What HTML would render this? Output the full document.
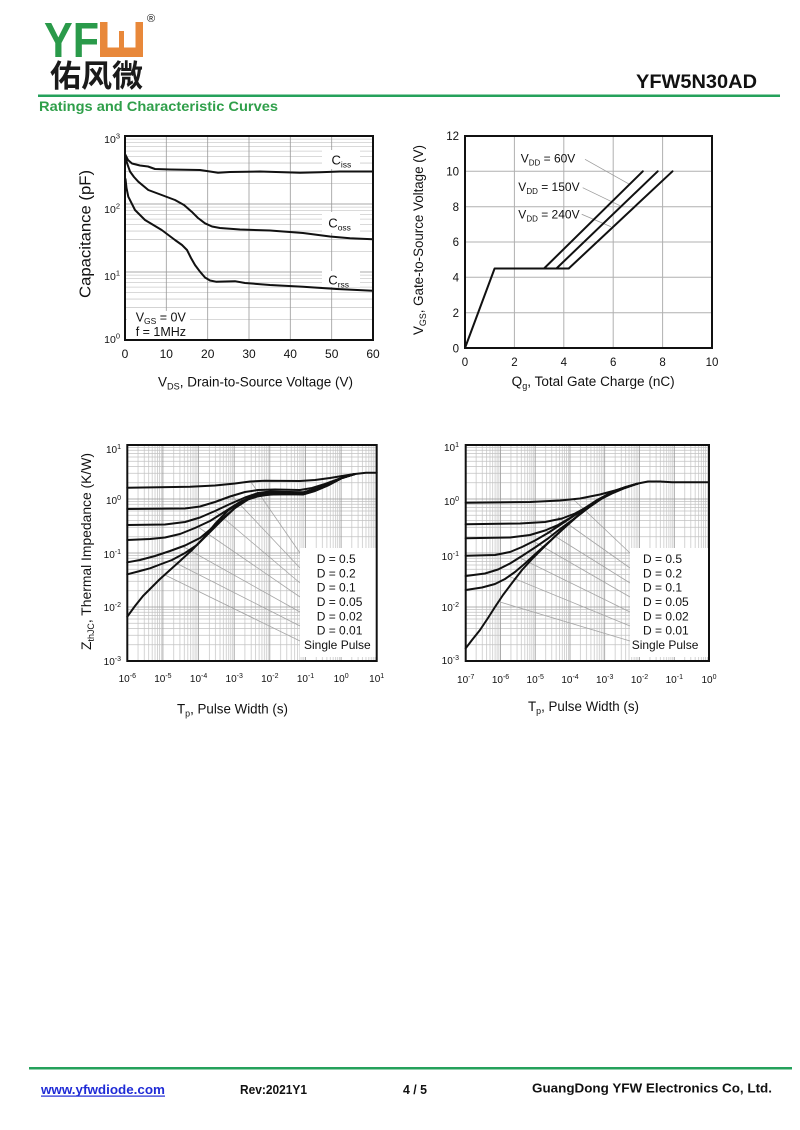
<!DOCTYPE html>
<html><head><meta charset="utf-8"><style>
html,body{margin:0;padding:0;background:#fff;}
svg{display:block;}
text{font-family:"Liberation Sans","Noto Sans CJK SC",sans-serif;fill:#111;}
</style></head><body>
<svg width="800" height="1130" viewBox="0 0 800 1130" xmlns="http://www.w3.org/2000/svg">
<defs>
<pattern id="pTL" patternUnits="userSpaceOnUse" x="125" y="136" width="248" height="68">
<path d="M0 3.11H248M0 6.59H248M0 10.53H248M0 15.09H248M0 20.47H248M0 27.06H248M0 35.56H248M0 47.53H248" stroke="#cdcdcd" stroke-width="0.8"/>
</pattern>
<pattern id="pBL" patternUnits="userSpaceOnUse" x="127.3" y="445" width="35.63" height="54">
<path d="M10.73 0V54M17 0V54M21.45 0V54M24.9 0V54M27.73 0V54M30.11 0V54M32.18 0V54M34 0V54M0 2.47H35.63M0 5.23H35.63M0 8.36H35.63M0 11.98H35.63M0 16.26H35.63M0 21.49H35.63M0 28.24H35.63M0 37.74H35.63" stroke="#c2c2c2" stroke-width="0.7"/>
</pattern>
<pattern id="pBR" patternUnits="userSpaceOnUse" x="465.7" y="445" width="34.76" height="54">
<path d="M10.46 0V54M16.58 0V54M20.93 0V54M24.3 0V54M27.05 0V54M29.38 0V54M31.39 0V54M33.17 0V54M0 2.47H34.76M0 5.23H34.76M0 8.36H34.76M0 11.98H34.76M0 16.26H34.76M0 21.49H34.76M0 28.24H34.76M0 37.74H34.76" stroke="#c2c2c2" stroke-width="0.7"/>
</pattern>
</defs>

<!-- HEADER -->
<text x="44" y="57" font-size="49" font-weight="bold" style="fill:#2a9a4a" textLength="55" lengthAdjust="spacingAndGlyphs">YF</text>
<rect x="100" y="22" width="43" height="35" fill="#e8883a"/>
<rect x="107.5" y="22" width="28" height="25.5" fill="#fff"/>
<rect x="119" y="31" width="5" height="17" fill="#e8883a"/>
<text x="147" y="22" font-size="11">®</text>
<text x="50" y="87" font-size="31" font-weight="bold" style="font-family:'Noto Sans CJK SC','WenQuanYi Zen Hei',sans-serif;fill:#1a1a1a">佑风微</text>
<text x="636" y="88" font-size="19" font-weight="bold" textLength="121" lengthAdjust="spacingAndGlyphs">YFW5N30AD</text>
<rect x="38" y="94.5" width="742" height="2.5" fill="#25a15b"/>
<text x="39" y="111" font-size="14" font-weight="bold" style="fill:#2f9f4a" textLength="239" lengthAdjust="spacingAndGlyphs">Ratings and Characteristic Curves</text>

<!-- ============ TOP LEFT: Capacitance ============ -->
<rect x="125" y="136" width="248" height="204" fill="url(#pTL)"/>
<path d="M125 204H373M125 272H373" stroke="#a8a8a8" stroke-width="1"/>
<path d="M166.3 136V340M207.7 136V340M249 136V340M290.3 136V340M331.7 136V340" stroke="#9a9a9a" stroke-width="0.8"/>
<rect x="322" y="150" width="38" height="19" fill="#fff"/>
<rect x="322" y="212" width="38" height="21" fill="#fff"/>
<rect x="322" y="271" width="38" height="16" fill="#fff"/>
<rect x="127" y="311" width="63" height="28" fill="#fff"/>
<g fill="none" stroke="#111" stroke-width="2" stroke-linejoin="round" stroke-linecap="round">
<polyline points="125.5,155 128,160 132,163.5 140,165.5 148,166.5 155,169 170,169.5 200,170 210,171.5 218,172.7 230,172 260,171.5 300,172.7 320,172.2 340,171.5 372.7,171.5"/>
<polyline points="125.5,155 127,163 130,171.5 134,177 138.3,181.7 148.3,190 161.7,195 175,200 184,205 191.7,211.7 198,218 205,223.3 212,226.5 220,228 240,229.5 270,230.5 303,233 330,236.5 350,238.3 372.7,239.3"/>
<polyline points="125.5,179 126.5,188 128.3,196.7 135,210 145,220 161.7,230 175,240 182,245 187,250 191,258 195,265 200,271.7 205,277.5 210,280.5 216,281.7 225,281.5 235,281.2 245,283 270,285 303,286.7 336.7,289 372.7,290.7"/>
</g>
<rect x="125" y="136" width="248" height="204" fill="none" stroke="#111" stroke-width="2"/>
<text x="331.5" y="164.5" font-size="13">C<tspan font-size="8.5" dy="3">iss</tspan></text>
<text x="328.3" y="227.7" font-size="13">C<tspan font-size="8.5" dy="3">oss</tspan></text>
<text x="328.3" y="284.3" font-size="13">C<tspan font-size="8.5" dy="3">rss</tspan></text>
<text x="135.7" y="321.5" font-size="12.5">V<tspan font-size="8.5" dy="2.5">GS</tspan><tspan dy="-2.5"> = 0V</tspan></text>
<text x="135.7" y="336" font-size="12.5">f = 1MHz</text>
<g font-size="10.5" text-anchor="end">
<text x="120" y="143">10<tspan font-size="7.5" dy="-4.5">3</tspan></text>
<text x="120" y="213">10<tspan font-size="7.5" dy="-4.5">2</tspan></text>
<text x="120" y="280">10<tspan font-size="7.5" dy="-4.5">1</tspan></text>
<text x="120" y="343">10<tspan font-size="7.5" dy="-4.5">0</tspan></text>
</g>
<g font-size="12" text-anchor="middle">
<text x="125" y="358">0</text><text x="166.3" y="358">10</text><text x="207.7" y="358">20</text><text x="249" y="358">30</text><text x="290.3" y="358">40</text><text x="331.7" y="358">50</text><text x="373" y="358">60</text>
</g>
<text x="158" y="386.5" font-size="14" textLength="195" lengthAdjust="spacingAndGlyphs">V<tspan font-size="9.5" dy="3">DS</tspan><tspan dy="-3">, Drain-to-Source Voltage (V)</tspan></text>
<text transform="translate(90.5,234) rotate(-90)" text-anchor="middle" font-size="15.5" textLength="128" lengthAdjust="spacingAndGlyphs">Capacitance (pF)</text>

<!-- ============ TOP RIGHT: Gate charge ============ -->
<path d="M514.4 136V348M563.8 136V348M613.2 136V348M662.6 136V348M465 171.3H712M465 206.7H712M465 242H712M465 277.3H712M465 312.7H712" stroke="#b0b0b0" stroke-width="1"/>
<g stroke="#9a9a9a" stroke-width="0.8">
<line x1="585" y1="159.3" x2="629.5" y2="184.3"/>
<line x1="582.7" y1="187.7" x2="620" y2="205.7"/>
<line x1="581.7" y1="214.3" x2="611" y2="226.7"/>
</g>
<g fill="none" stroke="#111" stroke-width="2" stroke-linejoin="round" stroke-linecap="round">
<polyline points="465,348 494.6,268.5 568.7,268.5"/>
<line x1="544" y1="268.5" x2="642.8" y2="171.3"/>
<line x1="556.4" y1="268.5" x2="657.7" y2="171.3"/>
<line x1="568.7" y1="268.5" x2="672.5" y2="171.3"/>
</g>
<rect x="465" y="136" width="247" height="212" fill="none" stroke="#111" stroke-width="2"/>
<text x="520.7" y="162.3" font-size="12">V<tspan font-size="8" dy="3">DD</tspan><tspan dy="-3"> = 60V</tspan></text>
<text x="518.3" y="191" font-size="12">V<tspan font-size="8" dy="3">DD</tspan><tspan dy="-3"> = 150V</tspan></text>
<text x="518.3" y="218.3" font-size="12">V<tspan font-size="8" dy="3">DD</tspan><tspan dy="-3"> = 240V</tspan></text>
<g font-size="11.5" text-anchor="end">
<text x="459" y="140">12</text><text x="459" y="175.5">10</text><text x="459" y="211">8</text><text x="459" y="246">6</text><text x="459" y="281.5">4</text><text x="459" y="317">2</text><text x="459" y="352.5">0</text>
</g>
<g font-size="11.5" text-anchor="middle">
<text x="465" y="366">0</text><text x="514.4" y="366">2</text><text x="563.8" y="366">4</text><text x="613.2" y="366">6</text><text x="662.6" y="366">8</text><text x="712" y="366">10</text>
</g>
<text x="511.7" y="386" font-size="13.5" textLength="163" lengthAdjust="spacingAndGlyphs">Q<tspan font-size="9" dy="3">g</tspan><tspan dy="-3">, Total Gate Charge (nC)</tspan></text>
<text transform="translate(423,240) rotate(-90)" text-anchor="middle" font-size="13.5" textLength="190" lengthAdjust="spacingAndGlyphs">V<tspan font-size="9" dy="3">GS</tspan><tspan dy="-3">, Gate-to-Source Voltage (V)</tspan></text>

<!-- ============ BOTTOM LEFT: Thermal impedance ============ -->
<rect x="127.3" y="445" width="249.4" height="216" fill="url(#pBL)"/>
<path d="M162.9 445V661M198.6 445V661M234.2 445V661M269.8 445V661M305.5 445V661M341.1 445V661M127.3 499H376.7M127.3 553H376.7M127.3 607H376.7" stroke="#999" stroke-width="0.8"/>
<g stroke="#a5a5a5" stroke-width="0.8">
<line x1="251" y1="482" x2="300" y2="553"/>
<line x1="232" y1="496" x2="300" y2="568"/>
<line x1="215" y1="511" x2="300" y2="583"/>
<line x1="198" y1="527" x2="300" y2="597"/>
<line x1="182" y1="546" x2="300" y2="612"/>
<line x1="170" y1="560" x2="300" y2="626"/>
<line x1="165" y1="575" x2="300" y2="641"/>
</g>
<rect x="300" y="548" width="77" height="109" fill="#fff"/>
<g fill="none" stroke="#111" stroke-width="2" stroke-linejoin="round" stroke-linecap="round">
<polyline points="127.3,487.7 190,486.7 215,485.5 235,483.5 250,481.5 265,480.7 300,481 315,480 330,478 345,475.5 355,474 366,472.8 376.7,472.7"/>
<polyline points="127.3,509 185,508.5 200,506.5 215,502 230,496.5 245,492 258,490 275,489.5 300,490 312,488 325,484 340,478.5 355,474"/>
<polyline points="127.3,525 165,524.5 185,522 200,517.5 215,511 230,504 245,497.5 258,493 270,491.5 290,492 303,492.3 315,489 328,484 342,478 355,474"/>
<polyline points="127.3,540 150,539 165,537.5 180,534 195,528 210,521 225,511.5 240,502 252,496.5 265,493 285,493 303,493.5 315,490 328,484.5 342,478 355,474"/>
<polyline points="127.3,562.3 140,560 155,556 170,551 185,545.5 200,538 212,528 225,516.5 240,503.5 252,497 265,494 285,493.8 303,494 315,490.5 328,485 342,478 355,474"/>
<polyline points="127.3,574.3 140,571 150,568.3 160,564.5 172,560 185,553 197,545 210,532 222,520 235,508 248,499.5 262,495 285,494 303,494.3 315,490.8 328,485.3 342,478 355,474"/>
<polyline points="127.3,616.7 135,606 143,596 150,589 160,579 170,570 180,561 192,550 203,538.5 215,524 228,510.5 242,501 256.7,496.5 270,494.5 290,494.2 303,494.5 315,491 328,485.5 342,478 353,474.3"/>
</g>
<rect x="127.3" y="445" width="249.4" height="216" fill="none" stroke="#111" stroke-width="2"/>
<g font-size="12">
<text x="316.7" y="563">D = 0.5</text>
<text x="316.7" y="577.3">D = 0.2</text>
<text x="316.7" y="591.7">D = 0.1</text>
<text x="316.7" y="606">D = 0.05</text>
<text x="316.7" y="620.3">D = 0.02</text>
<text x="316.7" y="634.6">D = 0.01</text>
<text x="304" y="649">Single Pulse</text>
</g>
<g font-size="10" text-anchor="end">
<text x="121" y="453">10<tspan font-size="7" dy="-4">1</tspan></text>
<text x="121" y="504">10<tspan font-size="7" dy="-4">0</tspan></text>
<text x="121" y="558">10<tspan font-size="7" dy="-4">-1</tspan></text>
<text x="121" y="611">10<tspan font-size="7" dy="-4">-2</tspan></text>
<text x="121" y="665">10<tspan font-size="7" dy="-4">-3</tspan></text>
</g>
<g font-size="10" text-anchor="middle">
<text x="127.3" y="682">10<tspan font-size="7" dy="-4">-6</tspan></text>
<text x="162.9" y="682">10<tspan font-size="7" dy="-4">-5</tspan></text>
<text x="198.6" y="682">10<tspan font-size="7" dy="-4">-4</tspan></text>
<text x="234.2" y="682">10<tspan font-size="7" dy="-4">-3</tspan></text>
<text x="269.8" y="682">10<tspan font-size="7" dy="-4">-2</tspan></text>
<text x="305.5" y="682">10<tspan font-size="7" dy="-4">-1</tspan></text>
<text x="341.1" y="682">10<tspan font-size="7" dy="-4">0</tspan></text>
<text x="376.7" y="682">10<tspan font-size="7" dy="-4">1</tspan></text>
</g>
<text x="177" y="713.5" font-size="13.5" textLength="111" lengthAdjust="spacingAndGlyphs">T<tspan font-size="9" dy="3">p</tspan><tspan dy="-3">, Pulse Width (s)</tspan></text>
<text transform="translate(91,551.5) rotate(-90)" text-anchor="middle" font-size="14" textLength="197" lengthAdjust="spacingAndGlyphs">Z<tspan font-size="9" dy="3">thJC</tspan><tspan dy="-3">, Thermal Impedance (K/W)</tspan></text>

<!-- ============ BOTTOM RIGHT: Thermal impedance ============ -->
<rect x="465.7" y="445" width="243.3" height="216" fill="url(#pBR)"/>
<path d="M500.5 445V661M535.2 445V661M570 445V661M604.7 445V661M639.5 445V661M674.3 445V661M465.7 499H709M465.7 553H709M465.7 607H709" stroke="#999" stroke-width="0.8"/>
<g stroke="#a5a5a5" stroke-width="0.8">
<line x1="573" y1="499" x2="630" y2="553"/>
<line x1="558" y1="517" x2="630" y2="568"/>
<line x1="545" y1="530" x2="630" y2="583"/>
<line x1="533" y1="541" x2="630" y2="597"/>
<line x1="520" y1="558" x2="630" y2="612"/>
<line x1="508" y1="576" x2="630" y2="626"/>
<line x1="500" y1="602" x2="630" y2="641"/>
</g>
<rect x="630" y="548" width="79" height="109" fill="#fff"/>
<g fill="none" stroke="#111" stroke-width="2" stroke-linejoin="round" stroke-linecap="round">
<polyline points="465.7,502.7 530,502 560,500.5 580,498.5 600,494.5 615,490.5 628,486.5 638,483.5 648,481.5 660,481.5 672,482.3 709,482.3"/>
<polyline points="465.7,524.3 520,523.5 545,522 562,518.5 575,513.5 588,506.5 600,499.5 612,493.5 625,488 638,483.5"/>
<polyline points="465.7,538.3 510,537.5 530,535 545,530.5 558,525 570,518 582,510.5 595,502 608,494.5 622,488.5 638,483.5"/>
<polyline points="465.7,555.7 495,555 510,552 522,547 535,540.5 548,533 560,525 572,517 585,508 598,499.5 612,492.5 625,487.5 638,483.5"/>
<polyline points="465.7,576 485,573.5 498,569.5 510,563.5 522,556 535,547.5 548,538.5 560,529 573,519.5 586,509.5 600,499.5 615,491 638,483.5"/>
<polyline points="465.7,590 482,587.5 495,584 505,579 515,572 525,563.5 537,552.5 550,541 563,529 576,517.5 590,506.5 604,497 620,489 638,483.5"/>
<polyline points="465.7,648.3 472,640 480,630 488,618 495,607 503,595 512,583 522,570 533,558 545,546 557,534.5 570,522.5 583,511 596,501 610,493 624,487.5 638,483.5"/>
</g>
<rect x="465.7" y="445" width="243.3" height="216" fill="none" stroke="#111" stroke-width="2"/>
<g font-size="12">
<text x="643" y="563">D = 0.5</text>
<text x="643" y="577.3">D = 0.2</text>
<text x="643" y="591.7">D = 0.1</text>
<text x="643" y="606">D = 0.05</text>
<text x="643" y="620.3">D = 0.02</text>
<text x="643" y="634.6">D = 0.01</text>
<text x="631.7" y="649">Single Pulse</text>
</g>
<g font-size="10" text-anchor="end">
<text x="459" y="451">10<tspan font-size="7" dy="-4">1</tspan></text>
<text x="459" y="505">10<tspan font-size="7" dy="-4">0</tspan></text>
<text x="459" y="560">10<tspan font-size="7" dy="-4">-1</tspan></text>
<text x="459" y="611">10<tspan font-size="7" dy="-4">-2</tspan></text>
<text x="459" y="664">10<tspan font-size="7" dy="-4">-3</tspan></text>
</g>
<g font-size="10" text-anchor="middle">
<text x="465.7" y="683">10<tspan font-size="7" dy="-4">-7</tspan></text>
<text x="500.5" y="683">10<tspan font-size="7" dy="-4">-6</tspan></text>
<text x="535.2" y="683">10<tspan font-size="7" dy="-4">-5</tspan></text>
<text x="570" y="683">10<tspan font-size="7" dy="-4">-4</tspan></text>
<text x="604.7" y="683">10<tspan font-size="7" dy="-4">-3</tspan></text>
<text x="639.5" y="683">10<tspan font-size="7" dy="-4">-2</tspan></text>
<text x="674.3" y="683">10<tspan font-size="7" dy="-4">-1</tspan></text>
<text x="709" y="683">10<tspan font-size="7" dy="-4">0</tspan></text>
</g>
<text x="528" y="711" font-size="13.5" textLength="111" lengthAdjust="spacingAndGlyphs">T<tspan font-size="9" dy="3">p</tspan><tspan dy="-3">, Pulse Width (s)</tspan></text>

<!-- FOOTER -->
<rect x="29" y="1067" width="763" height="2.5" fill="#25a15b"/>
<text x="41" y="1094" font-size="13" font-weight="bold" style="fill:#1f2bd6" textLength="124" lengthAdjust="spacingAndGlyphs">www.yfwdiode.com</text>
<rect x="41" y="1095.5" width="124" height="1.2" fill="#1f2bd6"/>
<text x="240" y="1094" font-size="12.5" font-weight="bold" textLength="67" lengthAdjust="spacingAndGlyphs">Rev:2021Y1</text>
<text x="403" y="1094" font-size="12.5" font-weight="bold" textLength="24" lengthAdjust="spacingAndGlyphs">4 / 5</text>
<text x="532" y="1092.5" font-size="13" font-weight="bold" textLength="240" lengthAdjust="spacingAndGlyphs">GuangDong YFW Electronics Co, Ltd.</text>
</svg>
</body></html>
